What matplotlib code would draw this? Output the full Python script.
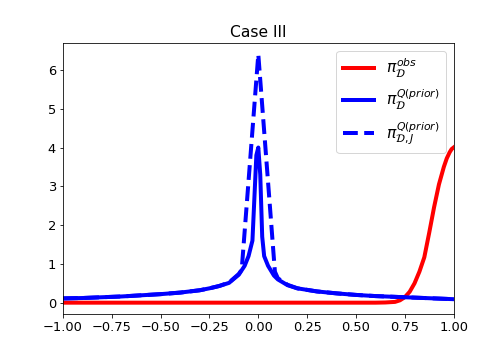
import matplotlib
matplotlib.use("Agg")
import matplotlib.pyplot as plt

# Observed density (red)
obs_x = [-1.0, 0.5, 0.6, 0.65, 0.7, 0.725, 0.75, 0.775, 0.8, 0.825, 0.85, 0.875, 0.9,
         0.925, 0.95, 0.965, 0.98, 0.99, 1.0]
obs_y = [0.0, 0.0, 0.0, 0.005, 0.02, 0.06, 0.14, 0.28, 0.5, 0.8, 1.17, 1.8, 2.46,
         3.05, 3.5, 3.72, 3.88, 3.96, 4.0]

# Push-forward of prior (blue solid)
qp_x = [-1.0, -0.9, -0.8, -0.7, -0.6, -0.5, -0.4, -0.3, -0.25, -0.2, -0.15, -0.1, -0.07, -0.05,
        -0.03, -0.02, -0.01, 0.0, 0.01, 0.02, 0.03, 0.05, 0.08, 0.1, 0.15, 0.2, 0.3, 0.4, 0.5,
        0.6, 0.7, 0.8, 0.9, 1.0]
qp_y = [0.11, 0.12, 0.14, 0.16, 0.19, 0.22, 0.26, 0.32, 0.37, 0.43, 0.51, 0.72, 0.95, 1.2,
        1.6, 2.7, 3.8, 4.0, 3.3, 1.7, 1.2, 0.95, 0.7, 0.6, 0.45, 0.37, 0.29, 0.24, 0.2,
        0.17, 0.15, 0.13, 0.11, 0.09]

# Push-forward of prior, J samples (blue dashed)
qpj_x = [-1.0, -0.9, -0.8, -0.7, -0.6, -0.5, -0.4, -0.3, -0.25, -0.2, -0.15, -0.1, -0.085,
         0.0, 0.085, 0.1, 0.15, 0.2, 0.3, 0.4, 0.5, 0.6, 0.7, 0.8, 0.9, 1.0]
qpj_y = [0.11, 0.12, 0.14, 0.16, 0.19, 0.22, 0.26, 0.32, 0.37, 0.43, 0.52, 0.74, 0.85,
         6.4, 0.8, 0.63, 0.46, 0.37, 0.29, 0.24, 0.2, 0.17, 0.15, 0.13, 0.11, 0.09]

plt.rcParams['font.size'] = 13
fig, ax = plt.subplots(figsize=(7, 5), dpi=72)
fig.subplots_adjust(left=0.125, right=0.9, top=0.88, bottom=0.128)

ax.plot(obs_x, obs_y, color='red', lw=4, label=r'$\pi_{\mathcal{D}}^{obs}$')
ax.plot(qp_x, qp_y, color='blue', lw=4, label=r'$\pi_{\mathcal{D}}^{Q(prior)}$')
ax.plot(qpj_x, qpj_y, color='blue', lw=4, ls='--', label=r'$\pi_{\mathcal{D},J}^{Q(prior)}$')

ax.set_xlim(-1, 1)
ax.set_ylim(-0.29, 6.69)
ax.set_xticks([-1.0, -0.75, -0.5, -0.25, 0.0, 0.25, 0.5, 0.75, 1.0])
ax.set_title('Case III', fontsize=15.5)
ax.legend(loc='upper right', fontsize=15.5)

fig.savefig('out.png', dpi=72)
